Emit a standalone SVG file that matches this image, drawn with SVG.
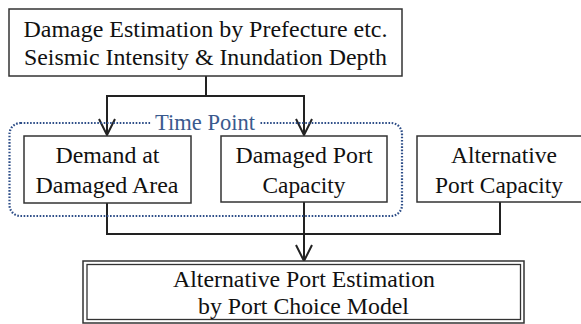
<svg xmlns="http://www.w3.org/2000/svg" width="581" height="324" viewBox="0 0 581 324">
<style>
.box{fill:#fff;stroke:#333;stroke-width:1.5}
.t{font-family:'Liberation Serif','DejaVu Serif','Noto Serif','Times New Roman',serif;font-size:23px;fill:#111;text-anchor:middle}
.tp{font-family:'Liberation Serif','DejaVu Serif','Noto Serif','Times New Roman',serif;font-size:23px;fill:#3A5A8E;text-anchor:middle}
.ln{fill:none;stroke:#222;stroke-width:2}
.ah{fill:none;stroke:#222;stroke-width:2;stroke-linejoin:miter}
</style>
<rect width="581" height="324" fill="#fff"/>
<g id="connectors">
<polyline class="ln" points="206,76 206,96"/>
<polyline class="ln" points="107,134 107,96 304,96 304,134"/>
<polyline class="ah" points="99,119 107,135 115,119"/>
<polyline class="ah" points="296,119 304,135 312,119"/>
<polyline class="ln" points="107,202 107,234 500,234 500,202"/>
<polyline class="ln" points="304,202 304,260"/>
<polyline class="ah" points="296,245 304,261 312,245"/>
</g>
<g id="timepoint">
<rect x="9.5" y="123" width="392.5" height="93" rx="11" fill="none" stroke="#2E4E88" stroke-width="2.2" stroke-dasharray="1.6 1.6"/>
<rect x="151" y="114" width="108" height="18" fill="#fff"/>
<text class="tp" x="205" y="130" textLength="100" lengthAdjust="spacingAndGlyphs">Time Point</text>
</g>
<g id="damage-estimation">
<rect class="box" x="9" y="9" width="393" height="67"/>
<text class="t" x="205.5" y="37" textLength="364" lengthAdjust="spacingAndGlyphs">Damage Estimation by Prefecture etc.</text>
<text class="t" x="205.5" y="65" textLength="363" lengthAdjust="spacingAndGlyphs">Seismic Intensity &amp; Inundation Depth</text>
</g>
<g id="demand">
<rect class="box" x="24" y="136" width="167" height="67"/>
<text class="t" x="107.5" y="163" textLength="104" lengthAdjust="spacingAndGlyphs">Demand at</text>
<text class="t" x="107" y="193" textLength="143" lengthAdjust="spacingAndGlyphs">Damaged Area</text>
</g>
<g id="damaged-port">
<rect class="box" x="221" y="136" width="166" height="66"/>
<text class="t" x="304" y="163" textLength="137" lengthAdjust="spacingAndGlyphs">Damaged Port</text>
<text class="t" x="304" y="193" textLength="83" lengthAdjust="spacingAndGlyphs">Capacity</text>
</g>
<g id="alt-capacity">
<rect class="box" x="417" y="136" width="170" height="66"/>
<text class="t" x="504" y="163" textLength="106" lengthAdjust="spacingAndGlyphs">Alternative</text>
<text class="t" x="499" y="193" textLength="128" lengthAdjust="spacingAndGlyphs">Port Capacity</text>
</g>
<g id="alt-estimation">
<rect class="box" x="83" y="261" width="441" height="62" stroke-width="1.3"/>
<rect x="87" y="264.5" width="433.5" height="55" fill="none" stroke="#333" stroke-width="1.3"/>
<text class="t" x="304" y="287" textLength="262" lengthAdjust="spacingAndGlyphs">Alternative Port Estimation</text>
<text class="t" x="303.5" y="314" textLength="211" lengthAdjust="spacingAndGlyphs">by Port Choice Model</text>
</g>
</svg>
